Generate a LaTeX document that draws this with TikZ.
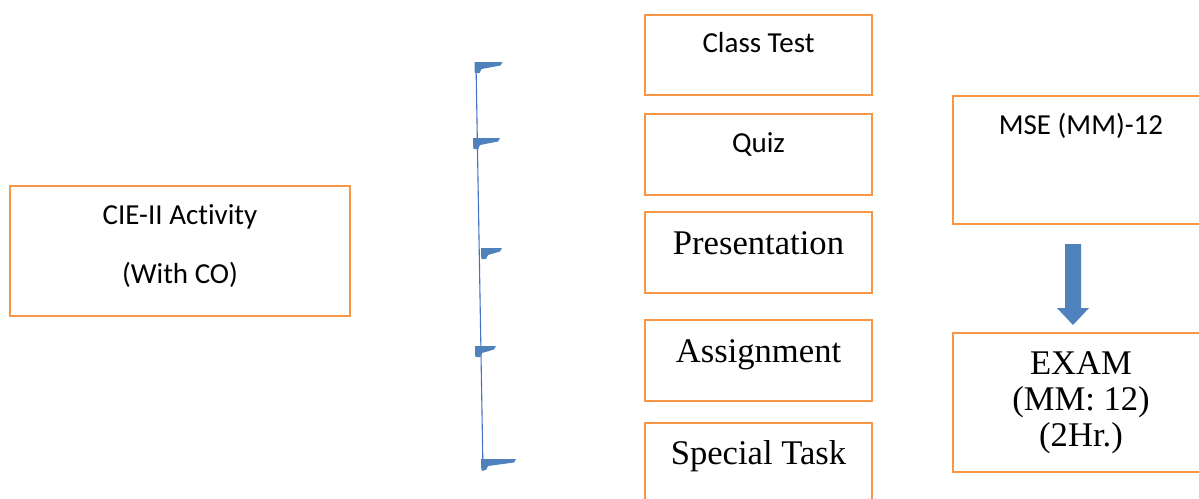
\documentclass[tikz,border=0pt]{standalone}
\usepackage{fontspec}
\newfontfamily\calib[Ligatures=NoCommon]{Carlito}
\newfontfamily\tms{Liberation Serif}
\definecolor{boxorange}{RGB}{247,150,70}
\definecolor{flagblue}{RGB}{79,129,189}
\definecolor{lineblue}{RGB}{68,114,196}
\newcommand{\drawflag}[3]{%
  \fill[flagblue] (#1,#2) -- ++(#3,0) -- ++(-2,3.5) -- (#1+7,#2+7) -- (#1+5,#2+11) -- (#1+0.5,#2+11) -- (#1,#2+7) -- cycle;}
\begin{document}
\begin{tikzpicture}[x=1pt,y=-1pt,
  box/.style={draw=boxorange, line width=2.2pt, fill=white, rectangle, inner sep=0pt},
  cal/.style={inner sep=0pt, anchor=base, font=\calib\fontsize{29}{35}\selectfont},
  tim/.style={inner sep=0pt, anchor=base, font=\tms\fontsize{34.6}{36}\selectfont}]
\useasboundingbox (0,0) rectangle (1199,498);
\clip (0,0) rectangle (1199,498);
% left box
\node[box, minimum width=340pt, minimum height=130pt] (cie) at (180,251) {};
\node[cal] (cie1) at (180,224) {CIE-II Activity};
\node[cal] (cie2) at (180,283) {(With CO)};
% middle boxes
\node[box, minimum width=227pt, minimum height=80pt] (ct) at (758.5,55) {};
\node[box, minimum width=227pt, minimum height=81pt] (qz) at (758.5,154.5) {};
\node[box, minimum width=227pt, minimum height=81pt] (pr) at (758.5,252.5) {};
\node[box, minimum width=227pt, minimum height=81pt] (as) at (758.5,360.5) {};
\node[box, minimum width=227pt, minimum height=81pt] (st) at (758.5,463.5) {};
\node[cal] (ctt) at (758.5,52) {Class Test};
\node[cal] (qzt) at (758.5,152) {Quiz};
\node[tim] (prt) at (758.5,254) {Presentation};
\node[tim] (ast) at (758.5,362) {Assignment};
\node[tim] (stt) at (758.5,464) {Special Task};
% right boxes
\node[box, minimum width=256pt, minimum height=128pt] (mse) at (1081,160) {};
\node[cal] (mset) at (1081,134) {MSE (MM)-12};
\node[box, minimum width=256pt, minimum height=139pt] (exam) at (1081,402.5) {};
\node[tim] (ex1) at (1081,374) {EXAM};
\node[tim] (ex2) at (1081,410) {(MM: 12)};
\node[tim] (ex3) at (1081,446) {(2Hr.)};
% block arrow
\coordinate (arrtop) at (1073,244);
\coordinate (arrtip) at (1073,325);
\fill[flagblue] (1065,244) -- (1081,244) -- (1081,308) -- (1089,308) -- (arrtip) -- (1057,308) -- (1065,308) -- cycle;
% bracket
\coordinate (brtop) at (476,63);
\coordinate (brbot) at (483,471);
\draw[lineblue, line width=1.1pt] (brtop) -- (brbot);
\drawflag{474.5}{62}{28}
\drawflag{473}{138}{27}
\drawflag{481}{248}{21}
\drawflag{475}{346}{21}
\drawflag{481}{459}{35}
\end{tikzpicture}
\end{document}
